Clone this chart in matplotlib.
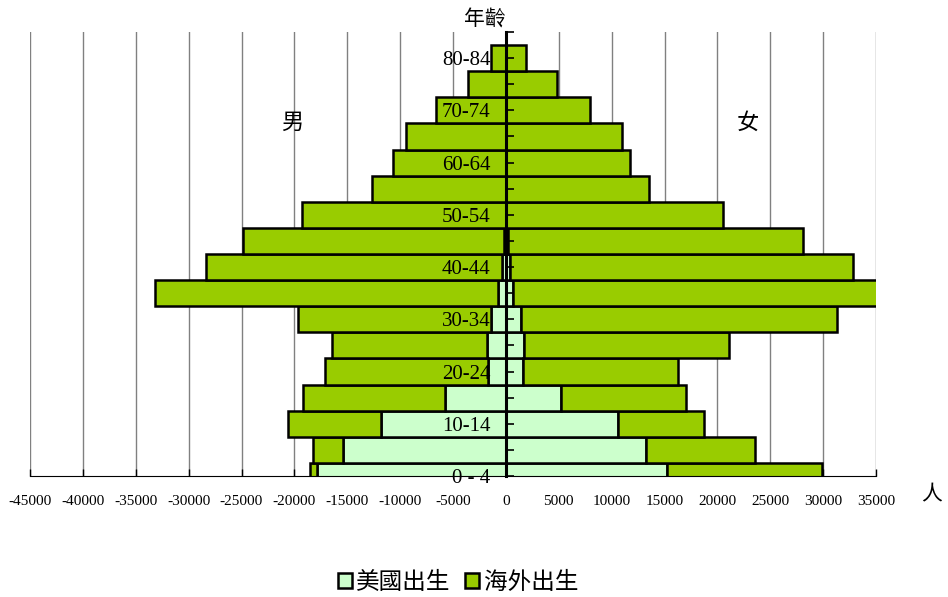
import matplotlib
matplotlib.use("Agg")
import matplotlib.pyplot as plt
import numpy as np

# age groups, youngest first
ages = ['0 - 4', '5-9', '10-14', '15-19', '20-24', '25-29', '30-34', '35-39',
        '40-44', '45-49', '50-54', '55-59', '60-64', '65-69', '70-74', '75-79', '80-84']

# 男 (men)
male_us = [17900, 15410, 11840, 5770, 1730, 1830, 1420, 730,
           350, 150, 0, 0, 0, 0, 0, 0, 0]
male_overseas = [660, 2830, 8740, 13450, 15370, 14620, 18240, 32420,
                 27980, 24680, 19280, 12660, 10710, 9450, 6620, 3620, 1450]

# 女 (women)
female_us = [15280, 13230, 10620, 5260, 1640, 1730, 1420, 690,
             400, 200, 0, 0, 0, 0, 0, 0, 0]
female_overseas = [14620, 10340, 8160, 11820, 14650, 19350, 29900, 35110,
                   32400, 27900, 20540, 13540, 11750, 10960, 7940, 4820, 1920]

xticks = list(range(-45000, 35001, 5000))

cjk = ['Noto Sans CJK TC', 'DejaVu Sans']
num_font = 'Liberation Serif'
light = '#CCFFCC'
green = '#99CC00'

fig = plt.figure(figsize=(9.48, 5.97), dpi=100)
W, H = 948, 597
ax = fig.add_axes([30 / W, 1 - 476 / H, (876 - 30) / W, (476 - 32) / H])

y = np.arange(len(ages))
m_us = -np.array(male_us)
m_os = -np.array(male_overseas)
f_us = np.array(female_us)
f_os = np.array(female_overseas)

for xt in xticks:
    ax.axvline(xt, color='#808080', lw=1.0, zorder=0)

ax.barh(y, m_us, height=1.0, color=light, edgecolor='black', lw=1.8, zorder=2)
ax.barh(y, m_os, left=m_us, height=1.0, color=green, edgecolor='black', lw=1.8, zorder=2)
ax.barh(y, f_us, height=1.0, color=light, edgecolor='black', lw=1.8, zorder=2)
ax.barh(y, f_os, left=f_us, height=1.0, color=green, edgecolor='black', lw=1.8, zorder=2)

ax.set_xlim(-45000, 35000)
ax.set_ylim(0, 17)

ax.spines['top'].set_visible(False)
ax.spines['right'].set_visible(False)
ax.spines['left'].set_position(('data', 0))
ax.spines['left'].set_linewidth(2.2)
ax.spines['left'].set_zorder(5)
ax.spines['bottom'].set_linewidth(0.8)

ax.set_xticks(xticks)
ax.set_xticklabels([str(v) for v in xticks], fontfamily=num_font, fontsize=11)
ax.tick_params(axis='x', direction='in', length=5, width=1, pad=14)

ax.set_yticks(np.arange(18))
ylabels = [ages[i] if i % 2 == 0 else '' for i in range(len(ages))] + ['']
ax.set_yticklabels(ylabels, fontfamily=num_font, fontsize=15)
ax.tick_params(axis='y', direction='in', length=6, width=1.2, pad=11)
ax.yaxis.set_zorder(6)

fig.text(485 / W, 1 - 19 / H, '年齡', family=cjk, fontsize=15, ha='center', va='center')
fig.text(292 / W, 1 - 122 / H, '男', family=cjk, fontsize=16, ha='center', va='center')
fig.text(748 / W, 1 - 122 / H, '女', family=cjk, fontsize=16, ha='center', va='center')
fig.text(932 / W, 1 - 494 / H, '人', family=cjk, fontsize=15, ha='center', va='center')

handles = [plt.Rectangle((0, 0), 1, 1, facecolor=light, edgecolor='black', lw=1.8),
           plt.Rectangle((0, 0), 1, 1, facecolor=green, edgecolor='black', lw=1.8)]
fig.legend(handles, ['美國出生', '海外出生'], loc='center',
           bbox_to_anchor=(458 / W, 1 - 582 / H), ncol=2, frameon=False,
           prop={'family': cjk, 'size': 17}, handlelength=0.6, handleheight=0.6,
           handletextpad=0.2, columnspacing=0.6)

fig.savefig('out.png', dpi=100)
